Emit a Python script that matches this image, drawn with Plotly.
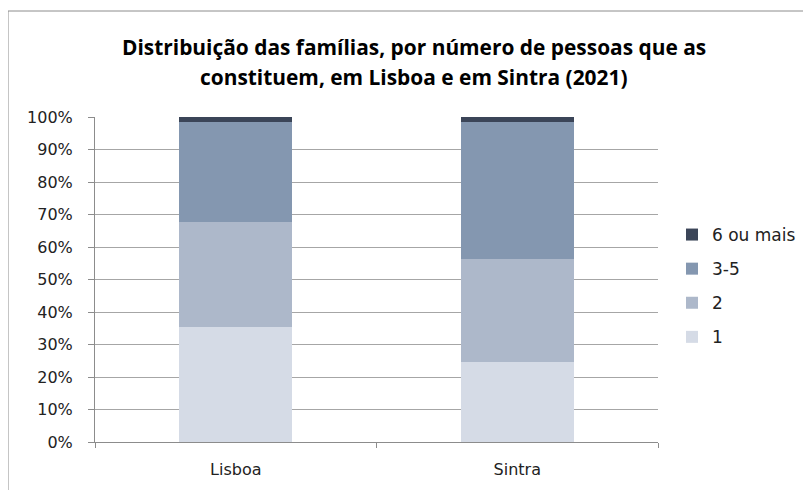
import plotly.graph_objects as go

categories = ["Lisboa", "Sintra"]
series_names = ["1", "2", "3-5", "6 ou mais"]
values_1 = [35.3, 24.6]
values_2 = [32.3, 31.8]
values_3_5 = [30.8, 42.0]
values_6_mais = [1.6, 1.6]
y_tick_values = list(range(0, 101, 10))
y_tick_labels = [f"{v}%" for v in y_tick_values]
title_lines = [
    "Distribuição das famílias, por número de pessoas que as",
    "constituem, em Lisboa e em Sintra (2021)",
]

colors = ["#d5dbe6", "#adb8ca", "#8497b0", "#3b4558"]
all_values = [values_1, values_2, values_3_5, values_6_mais]

FONT = "DejaVu Sans"
TITLE_FONT = "Open Sans"
TXT = "#222222"

# The page has an 8px body margin, so the figure is drawn 8px in from the top-left.
OFF = 8
W, H = 811 - OFF, 490 - OFF
L, R, T, B = 95 - OFF, 811 - 658, 117 - OFF, 490 - 442
PW, PH = W - L - R, H - T - B

fig = go.Figure()
for i, (name, vals, col) in enumerate(zip(series_names, all_values, colors)):
    fig.add_trace(go.Bar(
        x=categories, y=vals, name=name, legendgroup=name,
        legendrank=100 - i,
        marker=dict(color=col, line=dict(width=0)),
        hoverinfo="x+y+name",
    ))

annotations = []
for line, yc in zip(title_lines, [47, 77]):
    annotations.append(dict(
        text=f"<b>{line}</b>", xref="paper", yref="paper",
        x=(414 - 95) / PW, y=(442 - yc) / PH, xanchor="center", yanchor="middle",
        showarrow=False, font=dict(family=TITLE_FONT, size=20.9, color="#000000"),
    ))

fig.update_layout(
    width=W, height=H,
    barmode="stack", bargap=0.6,
    paper_bgcolor="white", plot_bgcolor="white",
    margin=dict(l=L, r=R, t=T, b=B, autoexpand=False),
    annotations=annotations,
    font=dict(family=FONT, size=16, color=TXT),
    legend=dict(
        traceorder="grouped", tracegroupgap=9,
        xref="container", yref="container",
        x=(672 - OFF) / W, xanchor="left", y=1 - (286 - OFF) / H, yanchor="middle",
        font=dict(family=FONT, size=17, color=TXT),
        bgcolor="rgba(0,0,0,0)",
    ),
    xaxis=dict(
        showgrid=False, showline=True, linecolor="#8c8c8c", linewidth=1,
        ticks="outside", tickson="boundaries", ticklen=5, tickcolor="#8c8c8c",
        ticklabelstandoff=13, automargin=False,
        tickfont=dict(family=FONT, size=16, color=TXT),
    ),
    yaxis=dict(
        range=[0, 100], tickmode="array", tickvals=y_tick_values, ticktext=y_tick_labels,
        showgrid=True, gridcolor="#a6a6a6", gridwidth=1,
        showline=True, linecolor="#8c8c8c", linewidth=1,
        ticks="outside", ticklen=6, tickcolor="#8c8c8c",
        ticklabelstandoff=12, automargin=False,
        tickfont=dict(family=FONT, size=16, color=TXT),
        zeroline=False,
    ),
    shapes=[dict(
        type="rect", xref="paper", yref="paper",
        x0=(8 - 95) / PW, x1=(830 - 95) / PW,
        y0=-(510 - 442) / PH, y1=(442 - 11) / PH,
        line=dict(color="#8c8c8c", width=1), fillcolor="rgba(0,0,0,0)",
        layer="below",
    )],
)

fig.write_html("out.html")
